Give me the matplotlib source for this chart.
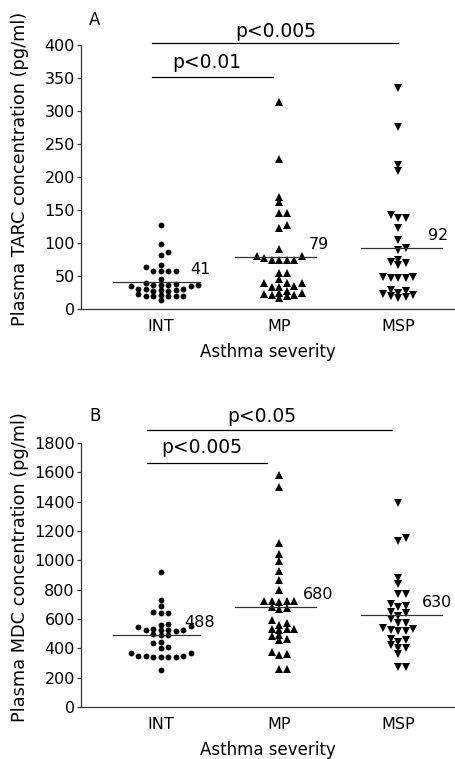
import numpy as np
import matplotlib
matplotlib.use('Agg')
import matplotlib.pyplot as plt

groups = ['INT', 'MP', 'MSP']

# panel A - plasma TARC (pg/ml)
tarc_int = [128, 98, 87, 82, 66, 64, 57, 57, 57, 57, 45, 40, 38, 37, 36, 36, 36,
            35, 35, 30, 30, 30, 29, 29, 28, 28, 22, 21, 20, 20, 20, 19, 19, 13]
tarc_mp = [313, 227, 170, 162, 145, 145, 127, 122, 91, 81, 81, 77, 75, 75, 75, 75,
           55, 55, 46, 40, 40, 39, 35, 34, 33, 28, 25, 25, 23, 21, 21, 20, 17]
tarc_msp = [335, 276, 218, 209, 143, 138, 138, 123, 104, 92, 90, 74, 71, 70, 66,
            48, 48, 47, 47, 47, 29, 28, 25, 23, 21, 19, 18, 17]
tarc_median = [41, 79, 92]

# panel B - plasma MDC (pg/ml)
mdc_int = [923, 729, 690, 645, 640, 640, 568, 560, 552, 548, 530, 528, 525, 525,
           522, 520, 495, 490, 488, 440, 435, 410, 405, 370, 365, 350, 345, 345,
           340, 340, 340, 340, 250]
mdc_mp = [1580, 1500, 1115, 1040, 995, 925, 865, 800, 725, 725, 720, 715, 720, 685,
          675, 670, 590, 575, 560, 535, 530, 530, 525, 490, 485, 465, 455, 375,
          360, 355, 260, 260]
mdc_msp = [1390, 1150, 1135, 880, 840, 770, 770, 705, 690, 680, 650, 640, 620, 600,
           575, 575, 540, 530, 525, 520, 520, 465, 460, 440, 420, 400, 400, 360,
           275, 270]
mdc_median = [488, 680, 630]

plt.rcParams['font.family'] = 'DejaVu Sans'
plt.rcParams['font.size'] = 11

markers = ['o', '^', 'v']
msizes = [4.2, 5.4, 5.4]
med_ext = [(-0.40, 0.33), (-0.37, 0.31), (-0.31, 0.37)]


def swarm(ax, values, center, sx=7.5, sy=5.0):
    # grid beeswarm in pixel space (columns sx apart, rows may sit sy apart)
    vals = np.asarray(values, dtype=float)
    pts = ax.transData.transform(np.column_stack([np.full(len(vals), center), vals]))
    cands = [0]
    for k in range(1, 15):
        cands += [k, -k]
    placed = []
    xs = np.zeros(len(vals))
    for i in np.argsort(vals):
        px, py = pts[i]
        for c in cands:
            x = px + c * sx
            if all(((x - qx) / sx) ** 2 + ((py - qy) / sy) ** 2 >= 0.95 for qx, qy in placed):
                break
        placed.append((x, py))
        xs[i] = x
    back = ax.transData.inverted().transform(np.column_stack([xs, pts[:, 1]]))
    return back[:, 0]


def panel(ax, data, medians, ymax, yticks, ylabel, sig, lab_dx):
    ax.set_xlim(-0.67, 2.48)
    ax.set_ylim(0, ymax)
    for sp in ['top', 'right']:
        ax.spines[sp].set_visible(False)
    for sp in ['left', 'bottom']:
        ax.spines[sp].set_color('#333333')
        ax.spines[sp].set_linewidth(0.9)
    ax.set_yticks(yticks)
    ax.set_xticks(range(3))
    ax.set_xticklabels(groups)
    ax.tick_params(axis='x', length=0, pad=7, labelsize=11.5)
    ax.tick_params(axis='y', length=3, width=0.9, pad=1.5, labelsize=11.5, color='#333333')
    ax.set_ylabel(ylabel, fontsize=12.8)
    ax.yaxis.set_label_coords(-0.14, 0.53)
    ax.set_xlabel('Asthma severity', fontsize=12, labelpad=7)

    for i, vals in enumerate(data):
        xs = swarm(ax, vals, i)
        ax.plot(xs, vals, linestyle='', marker=markers[i], markersize=msizes[i],
                color='black', markeredgewidth=0, clip_on=False)
        lo, hi = med_ext[i]
        ax.plot([i + lo, i + hi], [medians[i], medians[i]], color='#333333', lw=0.9)
        ax.annotate(str(medians[i]), (i + lab_dx, medians[i]), xytext=(0, 9),
                    textcoords='offset points', ha='left', va='center', fontsize=11.5)

    for x0, x1, yl, txt, xt, yt in sig:
        ax.plot([x0, x1], [yl, yl], color='black', lw=0.9, clip_on=False)
        ax.text(xt, yt, txt, ha='center', va='center', fontsize=13.5)


fig = plt.figure(figsize=(4.55, 7.59), dpi=100)
axA = fig.add_axes([81 / 455, 1 - 309 / 759, 374 / 455, 264 / 759])
axB = fig.add_axes([81 / 455, 1 - 707 / 759, 374 / 455, 264 / 759])

panel(axA, [tarc_int, tarc_mp, tarc_msp], tarc_median, 400,
      [0, 50, 100, 150, 200, 250, 300, 350, 400],
      'Plasma TARC concentration (pg/ml)',
      [(-0.07, 2.0, 403, 'p<0.005', 0.97, 421),
       (-0.07, 0.95, 351, 'p<0.01', 0.39, 373)], 0.25)
panel(axB, [mdc_int, mdc_mp, mdc_msp], mdc_median, 1800,
      [0, 200, 400, 600, 800, 1000, 1200, 1400, 1600, 1800],
      'Plasma MDC concentration (pg/ml)',
      [(-0.11, 1.95, 1889, 'p<0.05', 0.85, 1984),
       (-0.11, 0.90, 1664, 'p<0.005', 0.35, 1766)], 0.2)

fig.text(89 / 455, 1 - 20 / 759, 'A', fontsize=12, va='center')
fig.text(89 / 455, 1 - 416 / 759, 'B', fontsize=12, va='center')

fig.savefig('out.png', dpi=100)
